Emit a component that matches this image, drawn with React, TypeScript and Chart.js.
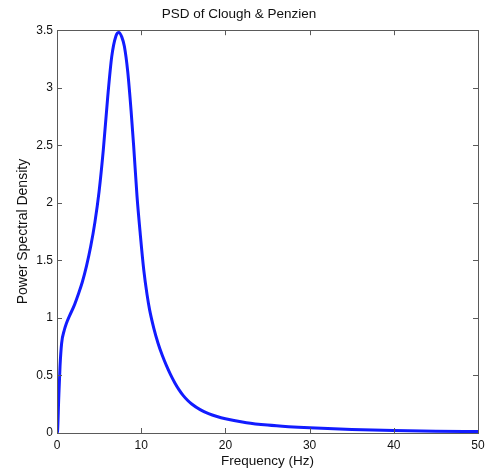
import React, { useEffect, useRef } from "react";
import { Chart, registerables } from "chart.js";

Chart.register(...registerables);

const titleText = "PSD of Clough & Penzien";
const xTitle = "Frequency (Hz)";
const yTitle = "Power Spectral Density";

const frequency = [
  0, 0.07, 0.2, 0.36, 0.55, 0.87, 1.1, 1.5, 2.0, 2.5, 3.0, 3.5, 4.0, 4.5, 5.0, 5.5, 6.0, 6.5, 7.0,
  7.35, 7.7, 8.0, 8.4, 8.8, 9.1, 9.5, 9.9, 10.3, 10.7, 11.0, 11.5, 12.0, 12.5, 13.0, 13.5, 14.0, 14.5,
  15.0, 15.5, 16.0, 17.0, 18.0, 19.0, 20.0, 22.5, 25.0, 27.5, 30.0, 35.0, 40.0, 45.0, 50.0,
];
const psd = [
  0, 0.02, 0.29, 0.58, 0.78, 0.895, 0.95, 1.02, 1.1, 1.2, 1.31, 1.45, 1.62, 1.83, 2.1, 2.46, 2.9,
  3.27, 3.45, 3.48, 3.44, 3.36, 3.14, 2.8, 2.5, 2.06, 1.72, 1.42, 1.2, 1.07, 0.91, 0.78, 0.675, 0.585,
  0.505, 0.435, 0.375, 0.325, 0.285, 0.252, 0.203, 0.168, 0.143, 0.124, 0.09, 0.069, 0.055, 0.045,
  0.031, 0.022, 0.016, 0.012,
];
const xTicks = [0, 10, 20, 30, 40, 50];
const yTicks = [0, 0.5, 1, 1.5, 2, 2.5, 3, 3.5];

const FONT = "'Liberation Sans', Arial, Helvetica, sans-serif";

const boxPlugin = {
  id: "matlabBox",
  afterDatasetsDraw(chart: any) {
    const { ctx, chartArea, scales } = chart;
    const { left, right, top, bottom } = chartArea;
    ctx.save();
    ctx.strokeStyle = "#5a5a5a";
    ctx.lineWidth = 1;
    ctx.beginPath();
    const tl = 5;
    xTicks.forEach((v) => {
      const px = Math.round(scales.x.getPixelForValue(v)) + 0.5;
      ctx.moveTo(px, bottom);
      ctx.lineTo(px, bottom - tl);
      ctx.moveTo(px, top);
      ctx.lineTo(px, top + tl);
    });
    yTicks.forEach((v) => {
      const py = Math.round(scales.y.getPixelForValue(v)) + 0.5;
      ctx.moveTo(left, py);
      ctx.lineTo(left + tl, py);
      ctx.moveTo(right, py);
      ctx.lineTo(right - tl, py);
    });
    ctx.stroke();
    ctx.strokeRect(Math.round(left) + 0.5, Math.round(top) + 0.5, Math.round(right - left), Math.round(bottom - top));
    ctx.restore();
  },
};

export default function App() {
  const ref = useRef<HTMLCanvasElement | null>(null);

  useEffect(() => {
    document.body.style.margin = "0";
    const canvas = ref.current;
    if (!canvas) return;
    const chart = new Chart(canvas, {
      type: "line",
      data: {
        datasets: [
          {
            data: frequency.map((f, i) => ({ x: f, y: psd[i] })),
            borderColor: "rgb(18, 28, 255)",
            borderWidth: 3,
            pointRadius: 0,
            cubicInterpolationMode: "monotone",
            fill: false,
          },
        ],
      },
      options: {
        responsive: false,
        animation: false,
        events: [],
        layout: { padding: { left: 0, right: 7, top: 0, bottom: 0 } },
        plugins: {
          legend: { display: false },
          tooltip: { enabled: false },
          title: {
            display: true,
            text: titleText,
            color: "#111",
            font: { family: FONT, size: 13.5, weight: "normal" },
            padding: { top: 6, bottom: 8 },
          },
        },
        scales: {
          x: {
            type: "linear",
            min: 0,
            max: 50,
            afterBuildTicks: (s: any) => {
              s.ticks = xTicks.map((v) => ({ value: v }));
            },
            afterFit: (s: any) => {
              s.height = 38;
              s.paddingLeft = 0;
              s.paddingRight = 0;
            },
            grid: { display: false, drawTicks: false },
            border: { display: false },
            ticks: {
              color: "#111",
              padding: 5,
              maxRotation: 0,
              font: { family: FONT, size: 12 },
            },
            title: {
              display: true,
              text: xTitle,
              color: "#111",
              font: { family: FONT, size: 13.5 },
              padding: { top: 0, bottom: 2 },
            },
          },
          y: {
            type: "linear",
            min: 0,
            max: 3.5,
            afterBuildTicks: (s: any) => {
              s.ticks = yTicks.map((v) => ({ value: v }));
            },
            afterFit: (s: any) => {
              s.width = 57;
              s.paddingTop = 0;
              s.paddingBottom = 0;
            },
            grid: { display: false, drawTicks: false },
            border: { display: false },
            ticks: {
              color: "#111",
              padding: 4,
              font: { family: FONT, size: 12 },
              callback: (v: any) => String(v),
            },
            title: {
              display: true,
              text: yTitle,
              color: "#111",
              font: { family: FONT, size: 14 },
              padding: { top: 14.6, bottom: 0 },
            },
          },
        },
      },
      plugins: [boxPlugin],
    } as any);
    return () => chart.destroy();
  }, []);

  return <canvas ref={ref} width={485} height={471} style={{ display: "block" }} />;
}
